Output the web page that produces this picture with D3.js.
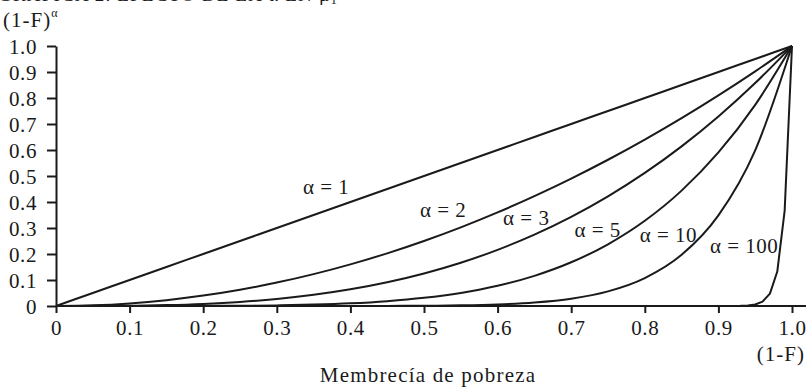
<!DOCTYPE html>
<html><head><meta charset="utf-8">
<script src="https://cdn.jsdelivr.net/npm/d3@7"></script>
<style>body{margin:0;background:#fff}svg{display:block}</style>
</head><body>
<script>
const xs = [0,0.05,0.1,0.15,0.2,0.25,0.3,0.35,0.4,0.45,0.5,0.55,0.6,0.65,0.7,0.75,0.8,0.85,0.9,0.95,1];
const a1 = [0,0.05,0.1,0.15,0.2,0.25,0.3,0.35,0.4,0.45,0.5,0.55,0.6,0.65,0.7,0.75,0.8,0.85,0.9,0.95,1];
const a2 = [0,0.0025,0.01,0.0225,0.04,0.0625,0.09,0.1225,0.16,0.2025,0.25,0.3025,0.36,0.4225,0.49,0.5625,0.64,0.7225,0.81,0.9025,1];
const a3 = [0,0.0001,0.001,0.0034,0.008,0.0156,0.027,0.0429,0.064,0.0911,0.125,0.1664,0.216,0.2746,0.343,0.4219,0.512,0.6141,0.729,0.8574,1];
const a5 = [0,0,0,0.0001,0.0003,0.001,0.0024,0.0053,0.0102,0.0185,0.0313,0.0503,0.0778,0.116,0.1681,0.2373,0.3277,0.4437,0.5905,0.7738,1];
const a10 = [0,0,0,0,0,0,0,0,0.0001,0.0003,0.001,0.0025,0.006,0.0135,0.0282,0.0563,0.1074,0.1969,0.3487,0.5987,1];
const xs100 = [0,0.9,0.93,0.94,0.95,0.96,0.97,0.98,0.99,1];
const a100 = [0,0,0.0007,0.0021,0.0059,0.0169,0.0476,0.1326,0.366,1];
const xTicks = [0,0.1,0.2,0.3,0.4,0.5,0.6,0.7,0.8,0.9,1.0];
const xTickLabels = ["0","0.1","0.2","0.3","0.4","0.5","0.6","0.7","0.8","0.9","1.0"];
const yTicks = [0,0.1,0.2,0.3,0.4,0.5,0.6,0.7,0.8,0.9,1.0];
const yTickLabels = ["0","0.1","0.2","0.3","0.4","0.5","0.6","0.7","0.8","0.9","1.0"];
const curveLabels = ["α = 1","α = 2","α = 3","α = 5","α = 10","α = 100"];
const labelX = [0.367,0.526,0.639,0.736,0.832,0.935];
const labelY = [0.458,0.369,0.338,0.292,0.273,0.231];

const W = 808, H = 388;
const font = "'Liberation Serif','DejaVu Serif',serif";
const svg = d3.select("body").append("svg").attr("width",W).attr("height",H)
  .style("font-family",font);
const x = d3.scaleLinear().domain([0,1]).range([56,792]);
const y = d3.scaleLinear().domain([0,1]).range([306,46]);
const ink = "#1a1a1a";
const fs = 21;

// partially visible title at top (cut off by the page edge, as in the reference)
const t = svg.append("text").attr("x",-2).attr("y",1).attr("font-size",19).attr("fill",ink)
  .attr("letter-spacing",1.2);
t.append("tspan").text("GRÁFICA 2. EFECTO DE LA α EN μ");
t.append("tspan").attr("font-size",13).attr("dy",3).text("1");

// axes
const xAxis = d3.axisBottom(x).tickValues(xTicks).tickFormat((d,i)=>xTickLabels[i]).tickSize(7).tickSizeOuter(0);
const gx = svg.append("g").attr("transform",`translate(0,${y(0)})`).call(xAxis);
gx.select(".domain").attr("d",`M${x(0)},0H${x(1.019)}`);
const yAxis = d3.axisLeft(y).tickValues(yTicks).tickFormat((d,i)=>yTickLabels[i]).tickSize(9).tickSizeOuter(0);
const gy = svg.append("g").attr("transform",`translate(${x(0)},0)`).call(yAxis);
[gx,gy].forEach(g=>{
  g.selectAll("path,line").attr("stroke",ink).attr("stroke-width",2);
  g.selectAll("text").attr("font-family",font).attr("font-size",fs).attr("fill",ink).attr("letter-spacing",0.6);
});
gx.selectAll("text").attr("y",14).attr("dy","0.71em");
gy.selectAll("text").attr("x",-19).attr("dy","0.34em");

// curves
const smooth = d3.line().x(d=>x(d[0])).y(d=>y(d[1])).curve(d3.curveMonotoneX);
const straight = d3.line().x(d=>x(d[0])).y(d=>y(d[1]));
[a1,a2,a3,a5,a10].forEach(arr=>{
  svg.append("path").attr("d",smooth(xs.map((v,i)=>[v,arr[i]])))
    .attr("fill","none").attr("stroke",ink).attr("stroke-width",2);
});
svg.append("path").attr("d",straight(xs100.map((v,i)=>[v,a100[i]])))
  .attr("fill","none").attr("stroke",ink).attr("stroke-width",2).attr("stroke-linejoin","round");

// curve labels
curveLabels.forEach((s,i)=>{
  svg.append("text").attr("x",x(labelX[i])).attr("y",y(labelY[i])).attr("text-anchor","middle")
    .attr("dy","0.35em").attr("font-size",fs).attr("fill",ink).attr("letter-spacing",0.5).text(s);
});

// axis titles
const yt = svg.append("text").attr("x",3).attr("y",27).attr("font-size",fs).attr("fill",ink).attr("letter-spacing",1);
yt.append("tspan").text("(1-F)");
yt.append("tspan").attr("font-size",12).attr("dy",-10).text("α");
svg.append("text").attr("x",805).attr("y",361).attr("text-anchor","end").attr("font-size",fs).attr("fill",ink).attr("letter-spacing",1).text("(1-F)");
svg.append("text").attr("x",428).attr("y",382).attr("text-anchor","middle").attr("font-size",fs).attr("fill",ink).attr("letter-spacing",1.2).text("Membrecía de pobreza");
</script>
</body></html>
